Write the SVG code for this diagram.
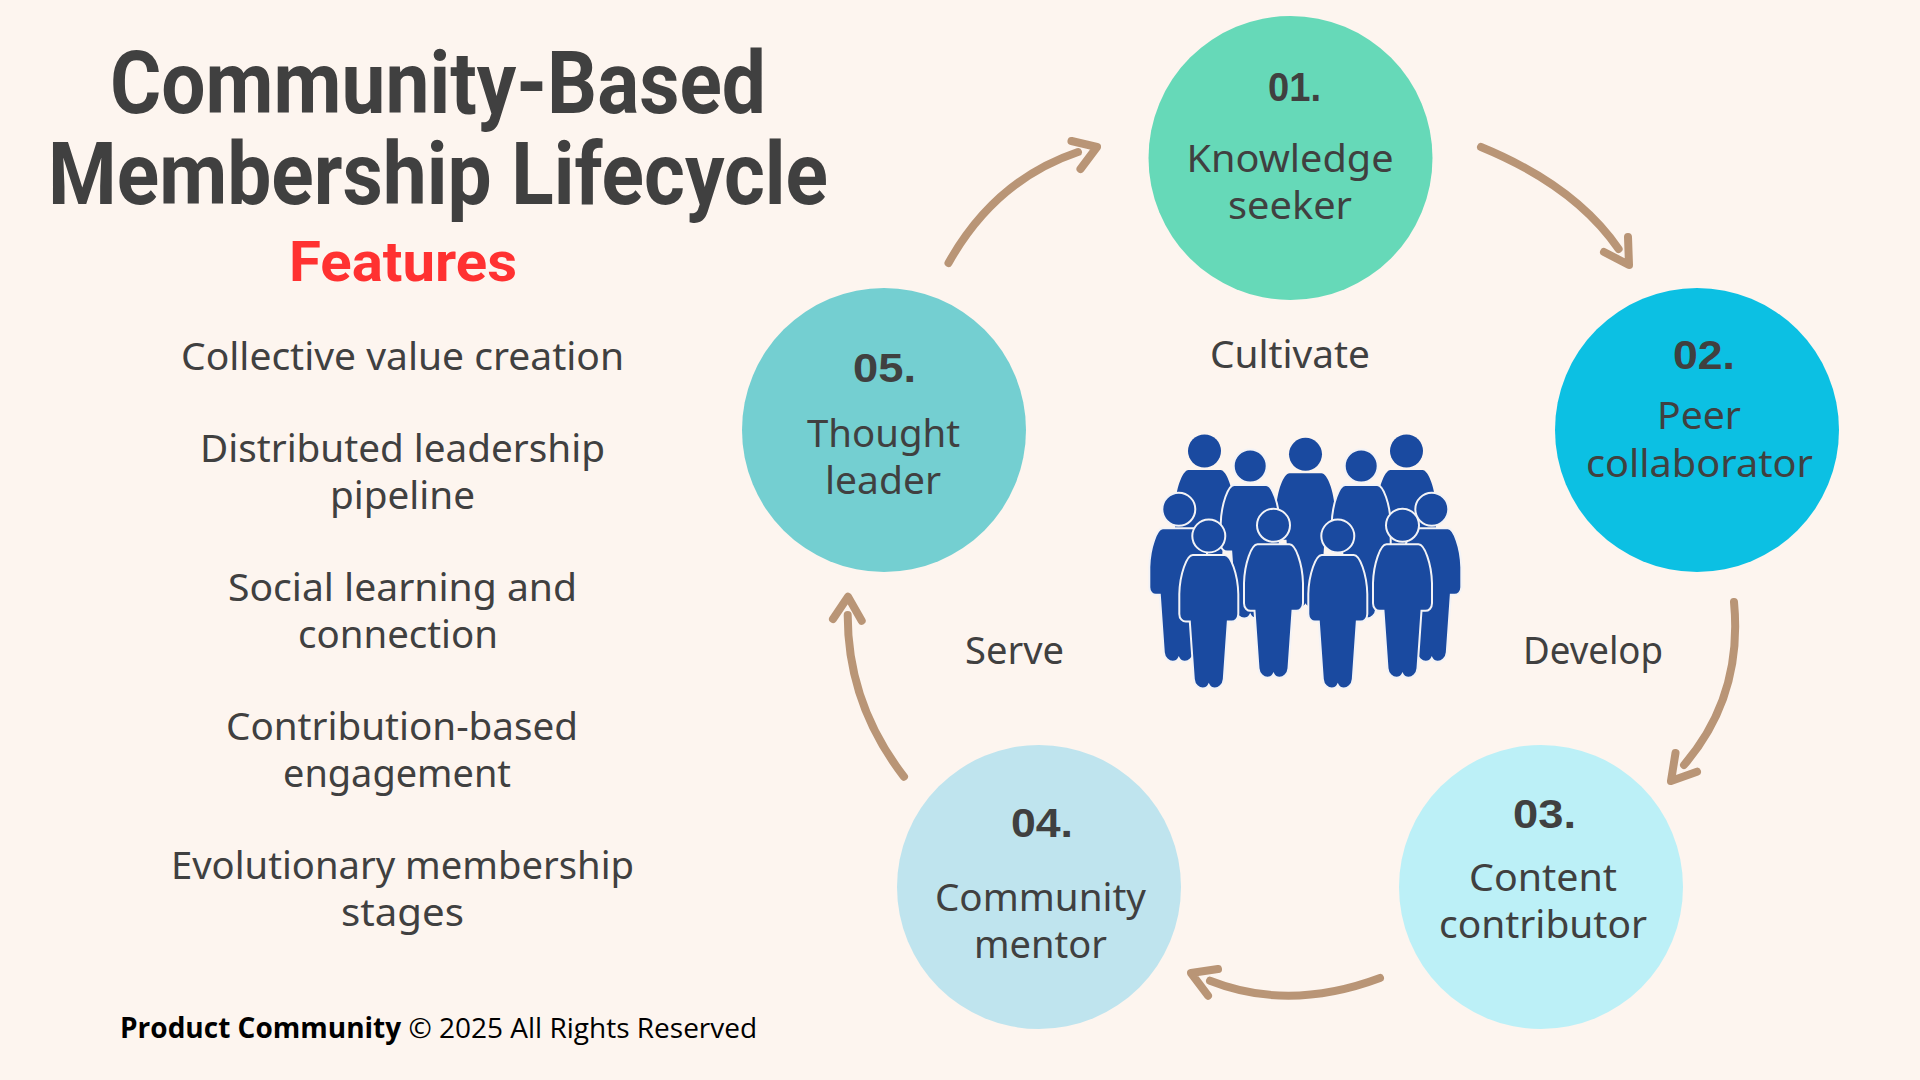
<svg xmlns="http://www.w3.org/2000/svg" xmlns:xlink="http://www.w3.org/1999/xlink" width="1920" height="1080" viewBox="0 0 1920 1080">
<style>
text{font-family:"Noto Sans","Liberation Sans",sans-serif;fill:#404040;}
.t{font-family:Roboto,"Liberation Sans",sans-serif;font-weight:700;font-size:87px;}
.f{font-family:Roboto,"Liberation Sans",sans-serif;font-weight:700;font-size:55px;fill:#FF3131;}
.b{font-size:38px;}
.n{font-family:"Liberation Sans",sans-serif;font-weight:700;font-size:40px;}
.c{font-family:"Open Sans","Noto Sans",sans-serif;font-size:28px;fill:#000;}
.a{fill:none;stroke:#B99576;stroke-width:8;stroke-linecap:round;stroke-linejoin:round;}
.p{fill:#1A4AA0;}
.o{stroke:#F3F3F6;stroke-width:2;}
</style>
<defs>
<g id="person"><circle cx="0" cy="0" r="16.5"/><path d="M-16 19H16C22 19 29 38 29.5 58V78C29.5 83 26 85.5 23 85.5H19L15 143C14.5 149 10 152.5 6 152.5C3 152.5 1 151 0 149C-1 151-3 152.5-6 152.5C-10 152.5-14.5 149-15 143L-19 85.5H-23C-26 85.5-29.5 83-29.5 78V58C-29 38-22 19-16 19Z"/></g>
</defs>
<rect width="1920" height="1080" fill="#FDF5EF"/>
<g id="title">
<text class="t" x="110" y="113" textLength="656" lengthAdjust="spacingAndGlyphs">Community-Based</text>
<text class="t" x="48" y="204" textLength="780" lengthAdjust="spacingAndGlyphs">Membership Lifecycle</text>
<text class="f" x="289" y="281" textLength="228" lengthAdjust="spacingAndGlyphs">Features</text>
</g>
<g id="features">
<text class="b" x="181" y="370" textLength="443" lengthAdjust="spacingAndGlyphs">Collective value creation</text>
<text class="b" x="200" y="462" textLength="405" lengthAdjust="spacingAndGlyphs">Distributed leadership</text>
<text class="b" x="330" y="509" textLength="145" lengthAdjust="spacingAndGlyphs">pipeline</text>
<text class="b" x="228" y="601" textLength="349" lengthAdjust="spacingAndGlyphs">Social learning and</text>
<text class="b" x="298" y="648" textLength="200" lengthAdjust="spacingAndGlyphs">connection</text>
<text class="b" x="226" y="740" textLength="352" lengthAdjust="spacingAndGlyphs">Contribution-based</text>
<text class="b" x="283" y="787" textLength="228" lengthAdjust="spacingAndGlyphs">engagement</text>
<text class="b" x="171" y="879" textLength="463" lengthAdjust="spacingAndGlyphs">Evolutionary membership</text>
<text class="b" x="341" y="926" textLength="123" lengthAdjust="spacingAndGlyphs">stages</text>
</g>
<g id="footer"><text class="c" x="120" y="1038"><tspan font-weight="700">Product Community</tspan> © 2025 All Rights Reserved</text></g>
<g id="connectors">
<path class="a" d="M948.5 263Q995 180 1078 152M1071.5 141L1097 147L1080.5 169"/>
<path class="a" d="M1481 147Q1575 185.6 1618.6 249M1628 237L1629 265L1604 252"/>
<path class="a" d="M1734 602Q1743 696.5 1684 765M1675.5 753L1671 781L1697 771.7"/>
<path class="a" d="M1380 978Q1289 1012 1210 980.7M1218 969L1191 973L1208 995.7"/>
<path class="a" d="M904 776.7Q847.6 704 847.7 615M833 619L848 596.7L861.7 620.7"/>
</g>
<g id="label-cultivate"><text class="b" x="1210" y="368" textLength="160" lengthAdjust="spacingAndGlyphs">Cultivate</text></g>
<g id="label-develop"><text class="b" x="1523" y="664" textLength="140" lengthAdjust="spacingAndGlyphs">Develop</text></g>
<g id="label-serve"><text class="b" x="965" y="664" textLength="99" lengthAdjust="spacingAndGlyphs">Serve</text></g>
<g id="node-01"><circle cx="1290.5" cy="158" r="142" fill="#66D9B8"/>
<text class="n" x="1268" y="101" textLength="53" lengthAdjust="spacingAndGlyphs">01.</text>
<text class="b" x="1186.5" y="172" textLength="207" lengthAdjust="spacingAndGlyphs">Knowledge</text>
<text class="b" x="1228" y="219" textLength="124" lengthAdjust="spacingAndGlyphs">seeker</text></g>
<g id="node-02"><circle cx="1697" cy="430" r="142" fill="#0CC0E3"/>
<text class="n" x="1673" y="369" textLength="62" lengthAdjust="spacingAndGlyphs">02.</text>
<text class="b" x="1657" y="429" textLength="84" lengthAdjust="spacingAndGlyphs">Peer</text>
<text class="b" x="1586" y="477" textLength="227" lengthAdjust="spacingAndGlyphs">collaborator</text></g>
<g id="node-03"><circle cx="1541" cy="887" r="142" fill="#BCF0F7"/>
<text class="n" x="1513" y="828" textLength="63" lengthAdjust="spacingAndGlyphs">03.</text>
<text class="b" x="1469" y="891" textLength="148" lengthAdjust="spacingAndGlyphs">Content</text>
<text class="b" x="1439" y="938" textLength="208" lengthAdjust="spacingAndGlyphs">contributor</text></g>
<g id="node-04"><circle cx="1039" cy="887" r="142" fill="#BFE4EE"/>
<text class="n" x="1011" y="837" textLength="62" lengthAdjust="spacingAndGlyphs">04.</text>
<text class="b" x="935" y="911" textLength="211" lengthAdjust="spacingAndGlyphs">Community</text>
<text class="b" x="974" y="958" textLength="133" lengthAdjust="spacingAndGlyphs">mentor</text></g>
<g id="node-05"><circle cx="884" cy="430" r="142" fill="#74CFD1"/>
<text class="n" x="853" y="382" textLength="63" lengthAdjust="spacingAndGlyphs">05.</text>
<text class="b" x="807" y="447" textLength="153" lengthAdjust="spacingAndGlyphs">Thought</text>
<text class="b" x="825" y="494" textLength="116" lengthAdjust="spacingAndGlyphs">leader</text></g>
<g id="people" class="p" transform="translate(0.5 1)">
<use xlink:href="#person" href="#person" x="1204" y="450"/>
<use xlink:href="#person" href="#person" x="1406" y="450"/>
<use xlink:href="#person" href="#person" x="1305" y="453.3"/>
<use xlink:href="#person" href="#person" x="1249.7" y="465" class="o"/>
<use xlink:href="#person" href="#person" x="1360.7" y="465" class="o"/>
<use xlink:href="#person" href="#person" x="1178.3" y="508.3" class="o"/>
<use xlink:href="#person" href="#person" x="1431.3" y="508.3" class="o"/>
<use xlink:href="#person" href="#person" x="1208.3" y="535" class="o"/>
<use xlink:href="#person" href="#person" x="1273" y="524.3" class="o"/>
<use xlink:href="#person" href="#person" x="1337.3" y="535" class="o"/>
<use xlink:href="#person" href="#person" x="1402" y="524.3" class="o"/>
</g>
</svg>
